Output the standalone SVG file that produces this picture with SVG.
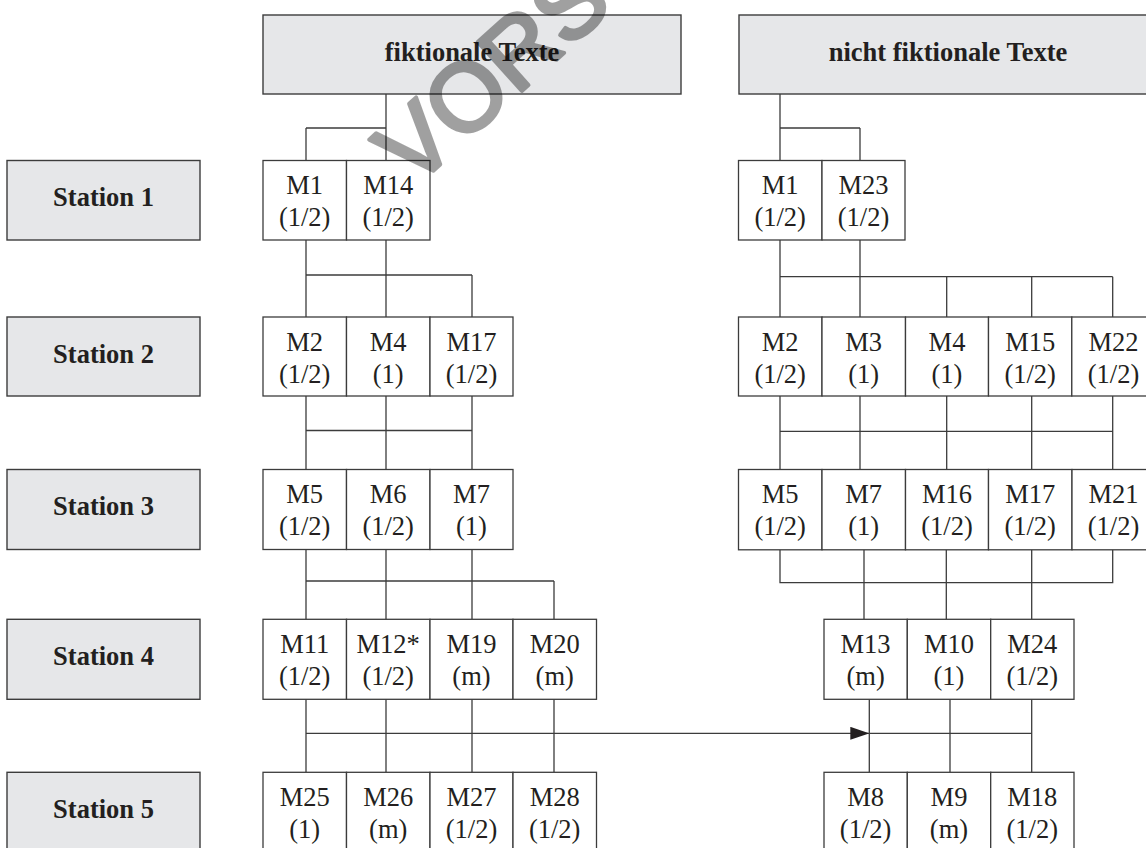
<svg xmlns="http://www.w3.org/2000/svg" width="1146" height="848" viewBox="0 0 1146 848">
<style>
.hdr{fill:#e6e7e9;stroke:#3c3c3c;stroke-width:1.4}
.cell{fill:#ffffff;stroke:#3c3c3c;stroke-width:1.3}
.ht{font-family:"Liberation Serif","Times New Roman",serif;font-weight:bold;font-size:26.5px;fill:#231f20;text-anchor:middle}
.ct{font-family:"Liberation Serif","Times New Roman",serif;font-size:26.5px;fill:#231f20;text-anchor:middle}
.ln{fill:none;stroke:#3c3c3c;stroke-width:1.3}
.wm{font-family:"Liberation Sans",Arial,sans-serif;font-size:96px;fill:#000;stroke:#000;stroke-width:4;stroke-linejoin:round}
</style>
<defs>
<marker id="ah" markerUnits="userSpaceOnUse" markerWidth="19" markerHeight="13" refX="19" refY="6.5" orient="auto">
<path d="M0,0 L19,6.5 L0,13 Z" fill="#231f20"/>
</marker>
</defs>
<rect width="1146" height="848" fill="#ffffff"/>

<!-- headers -->
<g id="hdr-fiktional"><rect class="hdr" x="263" y="15" width="418" height="79"/><text class="ht" x="472" y="61">fiktionale Texte</text></g>
<g id="hdr-nichtfiktional"><rect class="hdr" x="739" y="15" width="420" height="79"/><text class="ht" x="948" y="61">nicht fiktionale Texte</text></g>

<!-- stations -->
<g id="station1"><rect class="hdr" x="7" y="160.5" width="193" height="79.5"/><text class="ht" x="103.5" y="206">Station 1</text></g>
<g id="station2"><rect class="hdr" x="7" y="317" width="193" height="79"/><text class="ht" x="103.5" y="362.5">Station 2</text></g>
<g id="station3"><rect class="hdr" x="7" y="469.5" width="193" height="80"/><text class="ht" x="103.5" y="515">Station 3</text></g>
<g id="station4"><rect class="hdr" x="7" y="619.3" width="193" height="80"/><text class="ht" x="103.5" y="665">Station 4</text></g>
<g id="station5"><rect class="hdr" x="7" y="772.3" width="193" height="82"/><text class="ht" x="103.5" y="818">Station 5</text></g>

<!-- connectors -->
<g id="connectors">
<path class="ln" d="M386,94 V160.5 M306,128 H386 M306,128 V160.5"/>
<path class="ln" d="M306,240 V317 M386,240 V317 M306,275 H472 M472,275 V317"/>
<path class="ln" d="M306,396 V469.5 M386,396 V469.5 M472,396 V469.5 M306,430.5 H472"/>
<path class="ln" d="M306,549.5 V619.3 M386,549.5 V619.3 M472,549.5 V619.3 M306,581 H554 M554,581 V619.3"/>
<path class="ln" d="M306,699.3 V772.3 M386,699.3 V772.3 M472,699.3 V772.3 M554,699.3 V772.3"/>
<line class="ln" x1="306" y1="733.3" x2="869.3" y2="733.3" marker-end="url(#ah)"/>
<path class="ln" d="M780,94 V160.5 M780,128 H860 M860,128 V160.5"/>
<path class="ln" d="M780,240 V317 M860,240 V317 M780,276.7 H1112.7 M946.7,276.7 V317 M1031.7,276.7 V317 M1112.7,276.7 V317"/>
<path class="ln" d="M780,396 V469.5 M860,396 V469.5 M946.7,396 V469.5 M1031.7,396 V469.5 M1112.7,396 V469.5 M780,431.3 H1112.7"/>
<path class="ln" d="M780,549.8 V582.7 H1112.7 V549.8 M864,549.8 V619.3 M946.3,549.8 V619.3 M1031.7,549.8 V619.3"/>
<path class="ln" d="M869.3,699.3 V772.3 M950,699.3 V772.3 M1031.7,699.3 V772.3 M869.3,733.3 H1031.7"/>
</g>

<!-- fiktionale Texte -->
<g id="f1-M1"><rect class="cell" x="263" y="160.5" width="83.5" height="79.5"/><text class="ct" x="304.7" y="194">M1</text><text class="ct" x="304.7" y="226">(1/2)</text></g>
<g id="f1-M14"><rect class="cell" x="346.5" y="160.5" width="83.5" height="79.5"/><text class="ct" x="388.2" y="194">M14</text><text class="ct" x="388.2" y="226">(1/2)</text></g>

<g id="f2-M2"><rect class="cell" x="263" y="317" width="83.5" height="79"/><text class="ct" x="304.7" y="350.5">M2</text><text class="ct" x="304.7" y="382.5">(1/2)</text></g>
<g id="f2-M4"><rect class="cell" x="346.5" y="317" width="83.5" height="79"/><text class="ct" x="388.2" y="350.5">M4</text><text class="ct" x="388.2" y="382.5">(1)</text></g>
<g id="f2-M17"><rect class="cell" x="430" y="317" width="83" height="79"/><text class="ct" x="471.5" y="350.5">M17</text><text class="ct" x="471.5" y="382.5">(1/2)</text></g>

<g id="f3-M5"><rect class="cell" x="263" y="469.5" width="83.5" height="80"/><text class="ct" x="304.7" y="503">M5</text><text class="ct" x="304.7" y="535">(1/2)</text></g>
<g id="f3-M6"><rect class="cell" x="346.5" y="469.5" width="83.5" height="80"/><text class="ct" x="388.2" y="503">M6</text><text class="ct" x="388.2" y="535">(1/2)</text></g>
<g id="f3-M7"><rect class="cell" x="430" y="469.5" width="83" height="80"/><text class="ct" x="471.5" y="503">M7</text><text class="ct" x="471.5" y="535">(1)</text></g>

<g id="f4-M11"><rect class="cell" x="263" y="619.3" width="83.5" height="80"/><text class="ct" x="304.7" y="653">M11</text><text class="ct" x="304.7" y="685">(1/2)</text></g>
<g id="f4-M12"><rect class="cell" x="346.5" y="619.3" width="83.5" height="80"/><text class="ct" x="388.2" y="653">M12*</text><text class="ct" x="388.2" y="685">(1/2)</text></g>
<g id="f4-M19"><rect class="cell" x="430" y="619.3" width="83" height="80"/><text class="ct" x="471.5" y="653">M19</text><text class="ct" x="471.5" y="685">(m)</text></g>
<g id="f4-M20"><rect class="cell" x="513" y="619.3" width="83.5" height="80"/><text class="ct" x="554.7" y="653">M20</text><text class="ct" x="554.7" y="685">(m)</text></g>

<g id="f5-M25"><rect class="cell" x="263" y="772.3" width="83.5" height="82"/><text class="ct" x="304.7" y="806">M25</text><text class="ct" x="304.7" y="838">(1)</text></g>
<g id="f5-M26"><rect class="cell" x="346.5" y="772.3" width="83.5" height="82"/><text class="ct" x="388.2" y="806">M26</text><text class="ct" x="388.2" y="838">(m)</text></g>
<g id="f5-M27"><rect class="cell" x="430" y="772.3" width="83" height="82"/><text class="ct" x="471.5" y="806">M27</text><text class="ct" x="471.5" y="838">(1/2)</text></g>
<g id="f5-M28"><rect class="cell" x="513" y="772.3" width="83.5" height="82"/><text class="ct" x="554.7" y="806">M28</text><text class="ct" x="554.7" y="838">(1/2)</text></g>

<!-- nicht fiktionale Texte -->
<g id="n1-M1"><rect class="cell" x="738.5" y="160.5" width="83.5" height="79.5"/><text class="ct" x="780.2" y="194">M1</text><text class="ct" x="780.2" y="226">(1/2)</text></g>
<g id="n1-M23"><rect class="cell" x="822" y="160.5" width="83" height="79.5"/><text class="ct" x="863.5" y="194">M23</text><text class="ct" x="863.5" y="226">(1/2)</text></g>

<g id="n2-M2"><rect class="cell" x="738.5" y="317" width="83.5" height="79"/><text class="ct" x="780.2" y="350.5">M2</text><text class="ct" x="780.2" y="382.5">(1/2)</text></g>
<g id="n2-M3"><rect class="cell" x="822" y="317" width="83.5" height="79"/><text class="ct" x="863.7" y="350.5">M3</text><text class="ct" x="863.7" y="382.5">(1)</text></g>
<g id="n2-M4"><rect class="cell" x="905.5" y="317" width="83" height="79"/><text class="ct" x="947" y="350.5">M4</text><text class="ct" x="947" y="382.5">(1)</text></g>
<g id="n2-M15"><rect class="cell" x="988.5" y="317" width="83.3" height="79"/><text class="ct" x="1030.2" y="350.5">M15</text><text class="ct" x="1030.2" y="382.5">(1/2)</text></g>
<g id="n2-M22"><rect class="cell" x="1071.8" y="317" width="83.5" height="79"/><text class="ct" x="1113.5" y="350.5">M22</text><text class="ct" x="1113.5" y="382.5">(1/2)</text></g>

<g id="n3-M5"><rect class="cell" x="738.5" y="469.5" width="83.5" height="80.3"/><text class="ct" x="780.2" y="503">M5</text><text class="ct" x="780.2" y="535">(1/2)</text></g>
<g id="n3-M7"><rect class="cell" x="822" y="469.5" width="83.5" height="80.3"/><text class="ct" x="863.7" y="503">M7</text><text class="ct" x="863.7" y="535">(1)</text></g>
<g id="n3-M16"><rect class="cell" x="905.5" y="469.5" width="83" height="80.3"/><text class="ct" x="947" y="503">M16</text><text class="ct" x="947" y="535">(1/2)</text></g>
<g id="n3-M17"><rect class="cell" x="988.5" y="469.5" width="83.5" height="80.3"/><text class="ct" x="1030.2" y="503">M17</text><text class="ct" x="1030.2" y="535">(1/2)</text></g>
<g id="n3-M21"><rect class="cell" x="1072" y="469.5" width="83.5" height="80.3"/><text class="ct" x="1113.5" y="503">M21</text><text class="ct" x="1113.5" y="535">(1/2)</text></g>

<g id="n4-M13"><rect class="cell" x="824" y="619.3" width="83.3" height="80"/><text class="ct" x="865.6" y="653">M13</text><text class="ct" x="865.6" y="685">(m)</text></g>
<g id="n4-M10"><rect class="cell" x="907.3" y="619.3" width="83.4" height="80"/><text class="ct" x="949" y="653">M10</text><text class="ct" x="949" y="685">(1)</text></g>
<g id="n4-M24"><rect class="cell" x="990.7" y="619.3" width="83.3" height="80"/><text class="ct" x="1032.3" y="653">M24</text><text class="ct" x="1032.3" y="685">(1/2)</text></g>

<g id="n5-M8"><rect class="cell" x="824" y="772.3" width="83.3" height="82"/><text class="ct" x="865.6" y="806">M8</text><text class="ct" x="865.6" y="838">(1/2)</text></g>
<g id="n5-M9"><rect class="cell" x="907.3" y="772.3" width="83.4" height="82"/><text class="ct" x="949" y="806">M9</text><text class="ct" x="949" y="838">(m)</text></g>
<g id="n5-M18"><rect class="cell" x="990.7" y="772.3" width="83.3" height="82"/><text class="ct" x="1032.3" y="806">M18</text><text class="ct" x="1032.3" y="838">(1/2)</text></g>

<!-- watermark -->
<g opacity="0.37"><text class="wm" x="413" y="189" transform="rotate(-42 413 189)">VORS</text></g>
</svg>
